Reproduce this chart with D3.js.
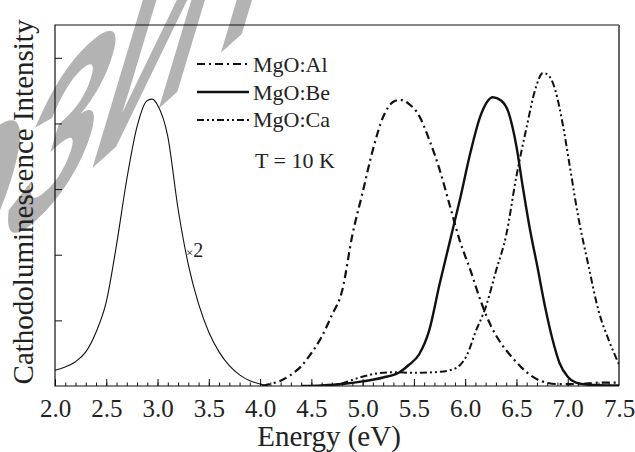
<!DOCTYPE html>
<html><head><meta charset="utf-8">
<script src="https://cdn.jsdelivr.net/npm/d3@7/dist/d3.min.js"></script>
<style>body{margin:0;background:#fff}svg{display:block}</style>
</head><body><svg id="c" width="635" height="452"></svg>
<script>
// ---- data ----
const xMajorTicks = [2.0, 2.5, 3.0, 3.5, 4.0, 4.5, 5.0, 5.5, 6.0, 6.5, 7.0, 7.5];
const yTicks = [1, 2, 3, 4, 5];
const seriesNames = ["MgO:Al", "MgO:Be", "MgO:Ca"];

const lowE = [2.0,2.1,2.2,2.3,2.4,2.5,2.6,2.7,2.8,2.9,2.95,3.0,3.1,3.2,3.3,3.4,3.5,3.6,3.7,3.8,3.9,4.0,4.07];
const lowI = [0.24,0.29,0.37,0.52,0.82,1.28,2.15,3.15,3.95,4.35,4.37,4.28,3.8,2.7,1.85,1.25,0.82,0.52,0.31,0.17,0.08,0.03,0.0];

const alE = [4.02,4.1,4.2,4.3,4.4,4.5,4.6,4.7,4.8,4.9,5.0,5.1,5.2,5.3,5.36,5.45,5.55,5.65,5.75,5.85,5.95,6.05,6.15,6.25,6.35,6.45,6.55,6.65,6.75,6.9,7.1,7.3,7.5];
const alI = [0.0,0.03,0.08,0.17,0.3,0.5,0.75,1.08,1.45,2.3,2.95,3.6,4.1,4.33,4.36,4.3,4.12,3.75,3.3,2.75,2.2,1.77,1.3,0.92,0.65,0.45,0.28,0.15,0.07,0.03,0.03,0.05,0.05];

const beE = [4.4,4.6,4.8,5.0,5.2,5.36,5.45,5.55,5.65,5.75,5.85,5.95,6.05,6.15,6.27,6.35,6.42,6.5,6.56,6.63,6.7,6.78,6.85,6.92,7.0,7.08,7.2,7.4,7.5];
const beI = [0.0,0.01,0.03,0.07,0.13,0.21,0.32,0.48,0.85,1.55,2.2,2.85,3.55,4.12,4.4,4.35,4.18,3.65,3.05,2.4,1.85,1.2,0.72,0.35,0.14,0.05,0.02,0.01,0.01];

const caE = [4.6,4.8,4.95,5.1,5.3,5.5,5.7,5.85,5.95,6.02,6.1,6.2,6.3,6.4,6.5,6.6,6.68,6.76,6.82,6.88,6.95,7.02,7.1,7.2,7.3,7.4,7.5];
const caI = [0.0,0.04,0.12,0.18,0.21,0.2,0.21,0.24,0.32,0.48,0.82,1.2,1.75,2.3,3.2,3.95,4.5,4.77,4.72,4.5,4.0,3.35,2.6,1.85,1.15,0.7,0.33];

// ---- layout ----
const svg = d3.select("#c");
const L = 55, R = 619, T = 25, B = 386;
const x = d3.scaleLinear().domain([2.0, 7.5]).range([L, R]);
const y = d3.scaleLinear().domain([0, 5.5]).range([B, T]);
const serif = "'Liberation Serif','Times New Roman',serif";
const ink = "#111";

// watermark (skewed repository stamp, partly outside the picture as in the reference)
const wm = svg.append("g").attr("transform", "matrix(1.45,-1.3,-0.75,2.5,-8,258)")
  .attr("font-family", "'Liberation Sans',Arial,sans-serif").attr("font-weight", "bold")
  .attr("font-size", 100).attr("fill", "#b3b3b3");
wm.append("text").attr("text-anchor", "end").text("РЕПО");
wm.append("text").attr("text-anchor", "start").text("ЗИТОРИЙ");

svg.append("clipPath").attr("id", "clip")
  .append("rect").attr("x", L).attr("y", T).attr("width", R - L).attr("height", B - T);

// axes
const xMinor = d3.range(20, 76).map(d => d / 10);
svg.append("g").attr("transform", `translate(0,${B})`)
  .call(d3.axisBottom(x).tickValues(xMinor).tickSize(-3.5).tickFormat(""))
  .call(g => g.select(".domain").remove())
  .call(g => g.selectAll("line").attr("stroke", ink));
const xAx = svg.append("g").attr("transform", `translate(0,${B})`)
  .call(d3.axisBottom(x).tickValues(xMajorTicks).tickSizeInner(-7).tickSizeOuter(0).tickPadding(16).tickFormat(d3.format(".1f")));
xAx.select(".domain").remove();
xAx.selectAll("line").attr("stroke", ink);
xAx.selectAll("text").attr("font-family", serif).attr("font-size", 25).attr("fill", "#222").attr("dy", "0.6em");

const yAx = svg.append("g").attr("transform", `translate(${L},0)`)
  .call(d3.axisLeft(y).tickValues(yTicks).tickSizeInner(-7).tickSizeOuter(0).tickFormat(""));
yAx.select(".domain").remove();
yAx.selectAll("line").attr("stroke", ink);

// frame
svg.append("path").attr("d", `M${R},${T}H${L}V${B}H${R}`).attr("fill", "none").attr("stroke", ink).attr("stroke-width", 1.2);
svg.append("line").attr("x1", R).attr("x2", R).attr("y1", T).attr("y2", B).attr("stroke", "#666").attr("stroke-width", 2);

// axis titles
svg.append("text").attr("x", 329).attr("y", 446).attr("text-anchor", "middle")
  .attr("font-family", serif).attr("font-size", 29).attr("fill", "#222").text("Energy (eV)");
svg.append("text").attr("transform", "translate(33,202) rotate(-90)").attr("text-anchor", "middle")
  .attr("font-family", serif).attr("font-size", 29).attr("fill", "#222").text("Cathodoluminescence Intensity");

// curves
const line = (E, I) => d3.line().x((d, i) => x(E[i])).y(d => y(d)).curve(d3.curveMonotoneX)(I);
const plot = svg.append("g").attr("clip-path", "url(#clip)");
const styles = [
  {E: alE, I: alI, w: 2.2, dash: "8,4,2,4"},
  {E: beE, I: beI, w: 2.4, dash: null},
  {E: caE, I: caI, w: 2.0, dash: "7,3,2,3,2,3"}
];
plot.append("path").attr("d", line(lowE, lowI)).attr("fill", "none").attr("stroke", ink).attr("stroke-width", 1.1);
styles.forEach(s => {
  plot.append("path").attr("d", line(s.E, s.I)).attr("fill", "none").attr("stroke", ink)
    .attr("stroke-width", s.w).attr("stroke-dasharray", s.dash);
});

// x2 label
const x2 = svg.append("text").attr("x", 186).attr("y", 257).attr("font-family", serif).attr("fill", "#222");
x2.append("tspan").attr("font-size", 13).text("×");
x2.append("tspan").attr("font-size", 20).text("2");

// legend
const legY = [64, 92, 120];
const legBase = [72, 100, 127];
seriesNames.forEach((n, i) => {
  svg.append("line").attr("x1", 197).attr("x2", 249).attr("y1", legY[i]).attr("y2", legY[i])
    .attr("stroke", ink).attr("stroke-width", styles[i].w).attr("stroke-dasharray", styles[i].dash);
  svg.append("text").attr("x", 253).attr("y", legBase[i]).attr("font-family", serif).attr("font-size", 22)
    .attr("fill", "#222").text(n);
});
svg.append("text").attr("x", 255).attr("y", 168).attr("font-family", serif).attr("font-size", 22)
  .attr("fill", "#222").text("T = 10 K");
</script></body></html>
